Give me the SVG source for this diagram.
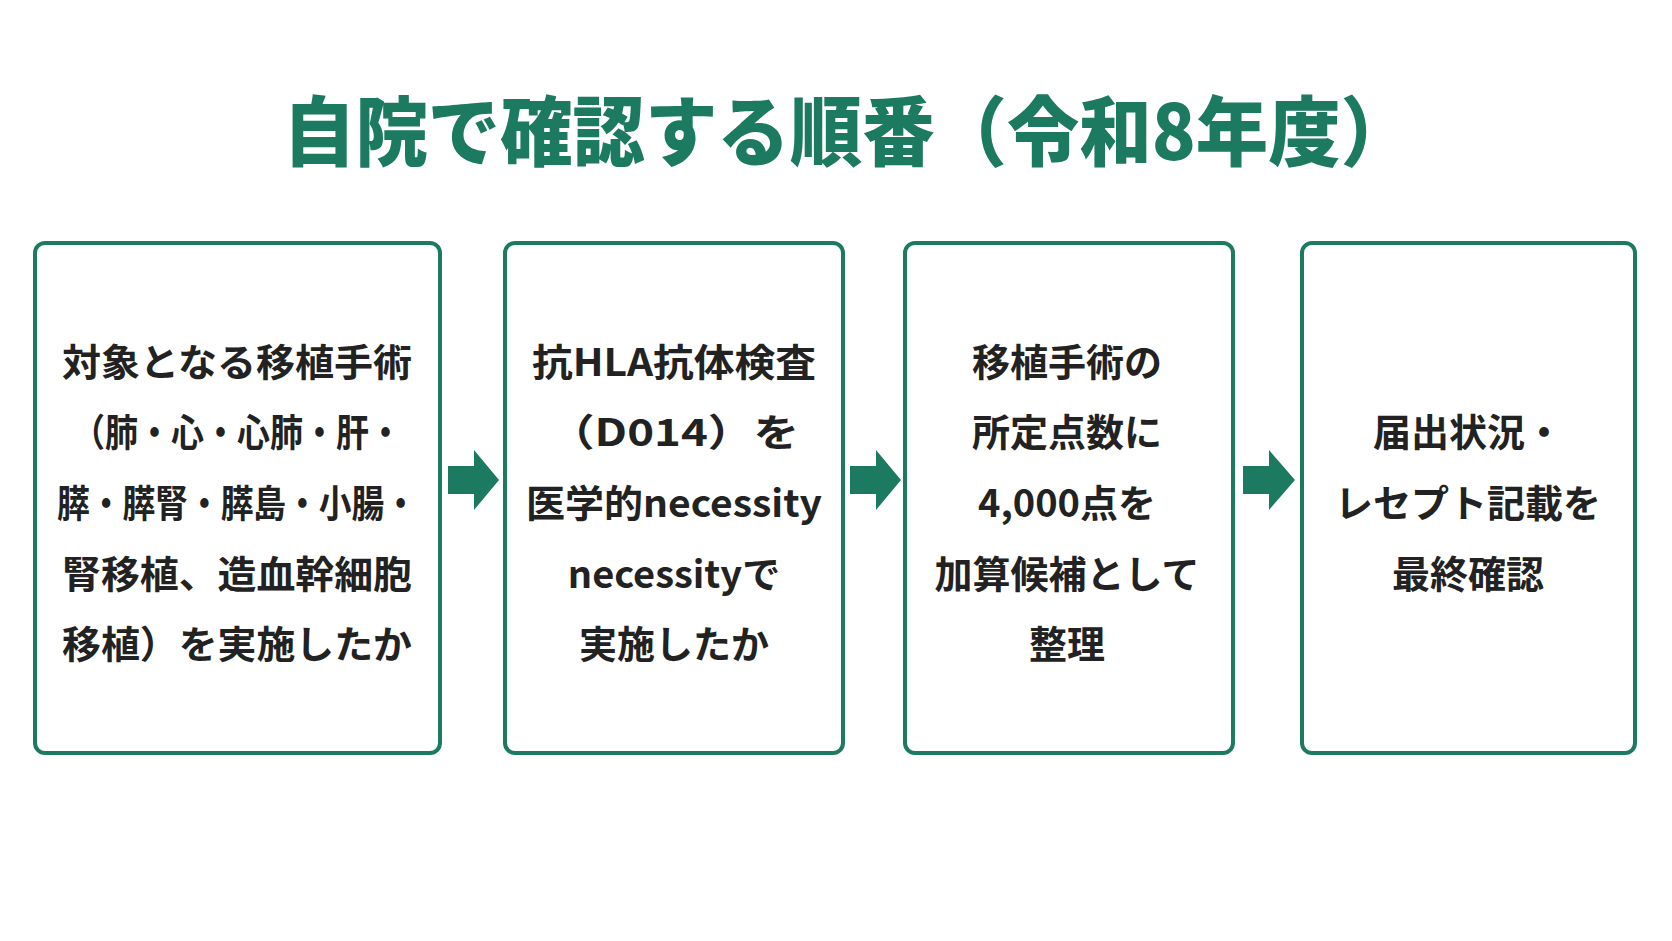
<svg xmlns="http://www.w3.org/2000/svg" width="1672" height="941" viewBox="0 0 1672 941">
<style>
.t{font-family:"Noto Sans CJK JP","Noto Sans",sans-serif;font-weight:700;fill:#222;font-size:38px;text-anchor:middle}
.box{fill:#fff;stroke:#1b7a5f;stroke-width:4}
.ttl{font-family:"Noto Sans CJK JP",sans-serif;font-weight:900;fill:#1b7a5f;font-size:76px;text-anchor:middle}
.ar{fill:#1b7a5f}
</style>
<rect width="1672" height="941" fill="#fff"/>
<text class="ttl" x="848" y="160" textLength="1130" lengthAdjust="spacingAndGlyphs">自院で確認する順番（令和8年度）</text>
<g id="n1"><rect class="box" x="35" y="243" width="405" height="510" rx="10"/>
<text class="t" x="237" y="376" textLength="350" lengthAdjust="spacingAndGlyphs">対象となる移植手術</text>
<text class="t" x="237" y="446" textLength="330" lengthAdjust="spacingAndGlyphs">（肺・心・心肺・肝・</text>
<text class="t" x="237" y="517" textLength="360" lengthAdjust="spacingAndGlyphs">膵・膵腎・膵島・小腸・</text>
<text class="t" x="237" y="588" textLength="350" lengthAdjust="spacingAndGlyphs">腎移植、造血幹細胞</text>
<text class="t" x="237" y="658" textLength="350" lengthAdjust="spacingAndGlyphs">移植）を実施したか</text></g>
<g id="n2"><rect class="box" x="505" y="243" width="338" height="510" rx="10"/>
<text class="t" x="674" y="376" textLength="284" lengthAdjust="spacingAndGlyphs">抗HLA抗体検査</text>
<text class="t" x="674" y="446" textLength="250" lengthAdjust="spacingAndGlyphs">（D014）を</text>
<text class="t" x="674" y="517" textLength="296" lengthAdjust="spacingAndGlyphs">医学的necessity</text>
<text class="t" x="674" y="588">necessityで</text>
<text class="t" x="674" y="658">実施したか</text></g>
<g id="n3"><rect class="box" x="905" y="243" width="328" height="510" rx="10"/>
<text class="t" x="1067" y="376">移植手術の</text>
<text class="t" x="1067" y="446">所定点数に</text>
<text class="t" x="1067" y="517">4,000点を</text>
<text class="t" x="1067" y="588">加算候補として</text>
<text class="t" x="1067" y="658">整理</text></g>
<g id="n4"><rect class="box" x="1302" y="243" width="333" height="510" rx="10"/>
<text class="t" x="1468" y="446">届出状況・</text>
<text class="t" x="1468" y="517">レセプト記載を</text>
<text class="t" x="1468" y="588">最終確認</text></g>
<g id="connectors">
<polygon class="ar" points="448,466 474,466 474,450 499,480 474,510 474,494 448,494"/>
<polygon class="ar" points="850,466 876,466 876,450 901,480 876,510 876,494 850,494"/>
<polygon class="ar" points="1243,466 1269,466 1269,450 1295,480 1269,510 1269,494 1243,494"/>
</g>
</svg>
